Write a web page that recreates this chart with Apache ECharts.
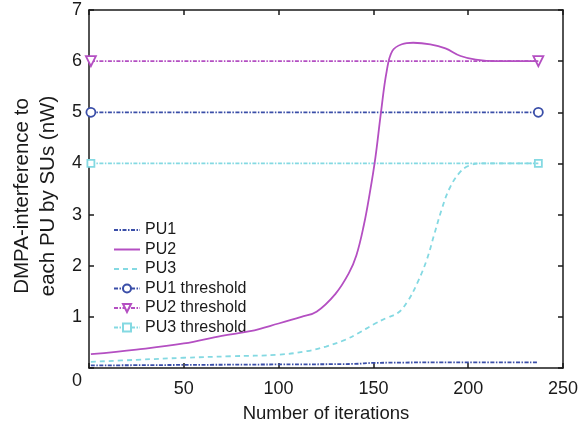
<!DOCTYPE html>
<html>
<head>
<meta charset="utf-8">
<script src="https://cdn.jsdelivr.net/npm/echarts@6/dist/echarts.min.js"></script>
<style>
  html, body { margin: 0; padding: 0; background: #fff; }
  #chart { width: 585px; height: 428px; }
</style>
</head>
<body>
<div id="chart"></div>
<script>
// iterations and readings
const pu1 = [[1, 0.05], [50, 0.06], [100, 0.07], [140, 0.08], [150, 0.1], [200, 0.11], [237, 0.11]];
const pu2 = [[1, 0.27], [25, 0.36], [50, 0.48], [70, 0.63], [85, 0.72], [100, 0.87], [112, 1.0], [120, 1.1],
  [130, 1.45], [137, 1.85], [141, 2.2], [145, 2.8], [148, 3.4], [151, 4.1], [154, 5.0], [157, 5.8],
  [160, 6.2], [165, 6.33], [171, 6.36], [180, 6.33], [188, 6.25], [196, 6.1], [204, 6.03], [215, 6.0], [237, 6.0]];
const pu3 = [[1, 0.12], [25, 0.16], [50, 0.2], [75, 0.23], [100, 0.26], [115, 0.33], [125, 0.42], [135, 0.55],
  [142, 0.68], [150, 0.85], [157, 0.98], [163, 1.08], [168, 1.3], [173, 1.65], [178, 2.1], [182, 2.6],
  [186, 3.1], [190, 3.5], [195, 3.8], [200, 3.95], [208, 4.0], [237, 4.0]];
const thrX = [1, 237];
const thresholds = [5, 6, 4];

const blue = '#3a4ea8';
const purple = '#b44fc2';
const cyan = '#84d9e2';
const dashDot = [4, 1.5, 1.5, 1.5];
const font = 'Liberation Sans, Arial, sans-serif';
const ink = '#1a1a1a';

const chart = echarts.init(document.getElementById('chart'));

function thresholdSeries(name, value, color, symbol, size) {
  return {
    name: name,
    type: 'line',
    data: thrX.map(x => [x, value]),
    symbol: symbol,
    symbolSize: size,
    showSymbol: true,
    lineStyle: { color: color, width: 1.8, type: dashDot },
    itemStyle: { color: '#fff', borderColor: color, borderWidth: 1.8 },
    z: 3
  };
}

// frame axes: ticks inside, no onZero so top/right stay on the border
function frameAxis(extra) {
  return Object.assign({
    type: 'value',
    axisLine: { show: true, onZero: false, lineStyle: { color: ink, width: 1.5 } },
    axisTick: { show: true, inside: true, length: 5, lineStyle: { color: ink, width: 1.5 } },
    splitLine: { show: false }
  }, extra);
}

const noMark = { opacity: 0 };

const option = {
  animation: false,
  grid: { left: 89, right: 22, top: 10, bottom: 55 },
  legend: {
    orient: 'vertical',
    left: 113,
    top: 222,
    padding: 0,
    itemWidth: 26,
    itemHeight: 10,
    itemGap: 3.5,
    textStyle: { fontFamily: font, fontSize: 16, color: ink },
    data: [
      { name: 'PU1', itemStyle: noMark },
      { name: 'PU2', itemStyle: noMark },
      { name: 'PU3', itemStyle: noMark },
      'PU1 threshold', 'PU2 threshold', 'PU3 threshold'
    ]
  },
  xAxis: [
    frameAxis({
      min: 0, max: 250, interval: 50, position: 'bottom',
      name: 'Number of iterations', nameLocation: 'middle', nameGap: 36,
      nameTextStyle: { fontFamily: font, fontSize: 18.5, color: ink },
      axisLabel: {
        fontFamily: font, fontSize: 18, color: ink, margin: 12,
        formatter: v => (v === 0 ? '' : v)
      }
    }),
    frameAxis({
      min: 0, max: 250, interval: 50, position: 'top',
      axisLabel: { show: false }
    })
  ],
  yAxis: [
    frameAxis({
      min: 0, max: 7, interval: 1, position: 'left',
      name: 'DMPA-interference to\neach PU by SUs (nW)', nameLocation: 'middle', nameGap: 21,
      nameTextStyle: { fontFamily: font, fontSize: 20.5, color: ink, lineHeight: 26, padding: [0, 14, 0, 0] },
      axisLabel: {
        fontFamily: font, fontSize: 18, color: ink, margin: 7,
        formatter: v => (v === 0 ? '{z|0}' : v),
        rich: { z: { fontFamily: font, fontSize: 18, color: ink, padding: [26, 0, 0, 0] } }
      }
    }),
    frameAxis({
      min: 0, max: 7, interval: 1, position: 'right',
      axisLabel: { show: false }
    })
  ],
  series: [
    {
      name: 'PU1', type: 'line', data: pu1, smooth: 0.4, showSymbol: false, symbol: 'none',
      lineStyle: { color: blue, width: 1.8, type: dashDot },
      itemStyle: { color: blue }, z: 4
    },
    {
      name: 'PU2', type: 'line', data: pu2, smooth: 0.4, showSymbol: false, symbol: 'none',
      lineStyle: { color: purple, width: 1.8 },
      itemStyle: { color: purple }, z: 4
    },
    {
      name: 'PU3', type: 'line', data: pu3, smooth: 0.4, showSymbol: false, symbol: 'none',
      lineStyle: { color: cyan, width: 1.8, type: [5, 4] },
      itemStyle: { color: cyan }, z: 4
    },
    thresholdSeries('PU1 threshold', thresholds[0], blue, 'circle', 9),
    thresholdSeries('PU2 threshold', thresholds[1], purple, 'path://M0,0 L10,0 L5,9 Z', 10),
    thresholdSeries('PU3 threshold', thresholds[2], cyan, 'rect', 7)
  ]
};

chart.setOption(option);
</script>
</body>
</html>
